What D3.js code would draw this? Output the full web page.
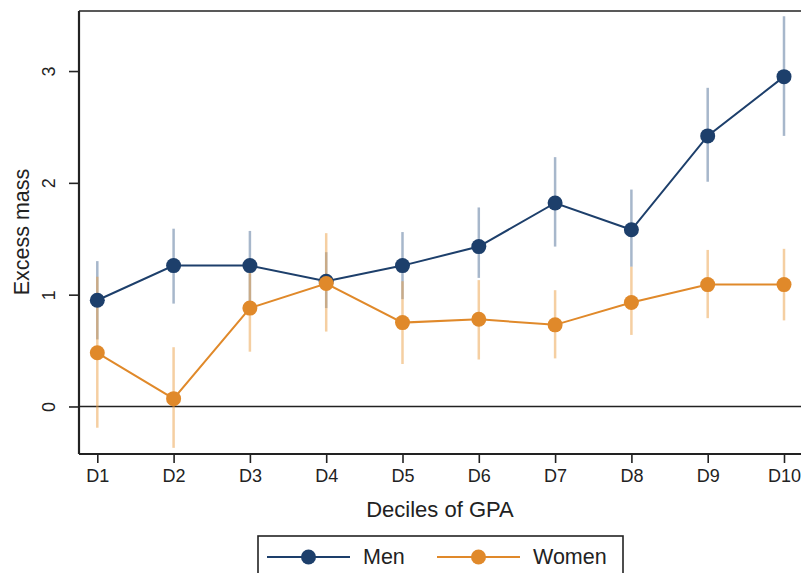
<!DOCTYPE html>
<html><head><meta charset="utf-8">
<script src="https://cdn.jsdelivr.net/npm/d3@7"></script>
<style>body{margin:0;background:#fff}svg{display:block}text{font-family:"Liberation Sans",Arial,sans-serif;fill:#222}</style>
</head><body>
<svg id="c" width="801" height="573"></svg>
<script>
const categories = ["D1","D2","D3","D4","D5","D6","D7","D8","D9","D10"];
const menValues  = [0.95,1.26,1.26,1.12,1.26,1.43,1.82,1.58,2.42,2.95];
const menLower   = [0.60,0.92,0.94,0.88,0.96,1.15,1.43,1.25,2.01,2.42];
const menUpper   = [1.30,1.59,1.57,1.38,1.56,1.78,2.23,1.94,2.85,3.49];
const womenValues= [0.48,0.07,0.88,1.10,0.75,0.78,0.73,0.93,1.09,1.09];
const womenLower = [-0.19,-0.37,0.49,0.67,0.38,0.42,0.43,0.64,0.79,0.77];
const womenUpper = [1.16,0.53,1.25,1.55,1.12,1.13,1.04,1.25,1.40,1.41];
const yTicks = [0,1,2,3];

const svg = d3.select("#c");
const pL = 79, pT = 11, pB = 454, pR = 815;
const x = d3.scalePoint().domain(categories).range([97.3, 784]);
const y = d3.scaleLinear().domain([-0.425, 3.537]).range([pB, pT]);

const series = [
  {name:"Men", v:menValues, lo:menLower, hi:menUpper, color:"#1d3f6b", ci:"rgba(60,95,140,0.45)"},
  {name:"Women", v:womenValues, lo:womenLower, hi:womenUpper, color:"#e0892a", ci:"rgba(236,160,70,0.5)"}
];

svg.append("line").attr("x1",pL).attr("x2",pR).attr("y1",pT).attr("y2",pT).attr("stroke","#222").attr("stroke-width",1.6);
svg.append("line").attr("x1",pL).attr("x2",pR).attr("y1",y(0)).attr("y2",y(0)).attr("stroke","#222").attr("stroke-width",1.6);

series.forEach(s=>{
  svg.append("g").selectAll("line").data(categories).join("line")
    .attr("x1",d=>x(d)).attr("x2",d=>x(d))
    .attr("y1",(d,i)=>y(s.lo[i])).attr("y2",(d,i)=>y(s.hi[i]))
    .attr("stroke",s.ci).attr("stroke-width",2.5);
});
series.forEach(s=>{
  const line = d3.line().x((d,i)=>x(categories[i])).y(d=>y(d));
  svg.append("path").datum(s.v).attr("d",line).attr("fill","none").attr("stroke",s.color).attr("stroke-width",2);
  svg.append("g").selectAll("circle").data(s.v).join("circle")
    .attr("cx",(d,i)=>x(categories[i])).attr("cy",d=>y(d)).attr("r",7.5).attr("fill",s.color);
});

const xAxis = svg.append("g").attr("transform",`translate(0,${pB})`)
  .call(d3.axisBottom(x).tickSize(9).tickPadding(5));
xAxis.select(".domain").attr("d",`M${pL},0H${pR}`).attr("stroke","#222").attr("stroke-width",2.2);
xAxis.selectAll(".tick line").attr("stroke","#222").attr("stroke-width",1.6);
xAxis.selectAll(".tick text").attr("font-size",18).attr("fill","#222").attr("dy",null).attr("y",28);

const yAxis = svg.append("g").attr("transform",`translate(${pL},0)`)
  .call(d3.axisLeft(y).tickValues(yTicks).tickFormat(d3.format("d")).tickSize(10));
yAxis.select(".domain").attr("d",`M0,${pT}V${pB}`).attr("stroke","#222").attr("stroke-width",2.2);
yAxis.selectAll(".tick line").attr("stroke","#222").attr("stroke-width",1.6);
yAxis.selectAll(".tick text").attr("font-size",18).attr("fill","#222")
  .attr("x",null).attr("dy",null)
  .attr("transform","translate(-24,0) rotate(-90)").attr("text-anchor","middle");

svg.append("text").attr("x",440).attr("y",517).attr("text-anchor","middle").attr("font-size",22).text("Deciles of GPA");
svg.append("text").attr("transform","translate(29,232) rotate(-90)").attr("text-anchor","middle").attr("font-size",21.5).text("Excess mass");

const lg = svg.append("g");
lg.append("rect").attr("x",258).attr("y",536).attr("width",365).attr("height",50).attr("fill","#fff").attr("stroke","#222").attr("stroke-width",1.6);
const legItems = [{s:series[0], x1:267, x2:350, tx:363},{s:series[1], x1:437, x2:520, tx:533}];
legItems.forEach(it=>{
  lg.append("line").attr("x1",it.x1).attr("x2",it.x2).attr("y1",557).attr("y2",557).attr("stroke",it.s.color).attr("stroke-width",2);
  lg.append("circle").attr("cx",(it.x1+it.x2)/2).attr("cy",557).attr("r",7.5).attr("fill",it.s.color);
  lg.append("text").attr("x",it.tx).attr("y",564).attr("font-size",21.5).text(it.s.name);
});
</script>
</body></html>
